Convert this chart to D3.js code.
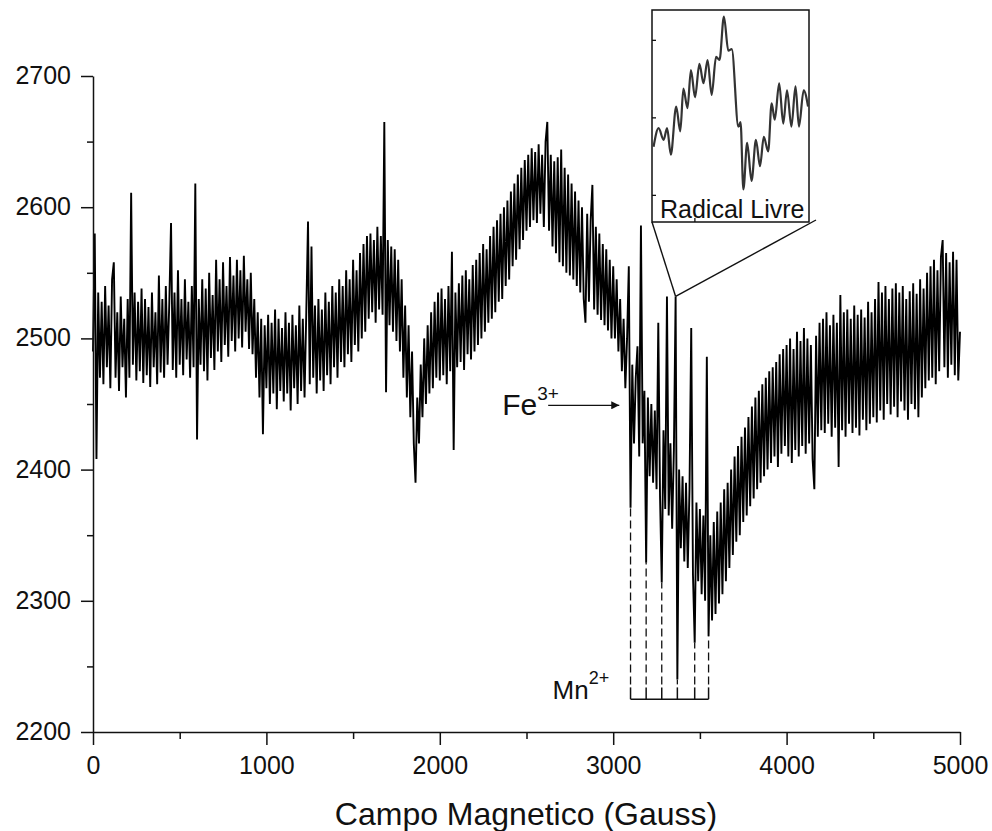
<!DOCTYPE html>
<html>
<head>
<meta charset="utf-8">
<script src="https://cdn.jsdelivr.net/npm/d3@7"></script>
<style>
  body { margin: 0; background: #fff; }
  text { font-family: "Liberation Sans", Arial, sans-serif; fill: #111; }
</style>
</head>
<body>
<div id="chart"></div>
<script>
var fieldStep = 10;

var signal0 = [2490,2580,2408,2535,2470,2528,2465,2540,2478,2525,
  2462,2545,2558,2470,2520,2460,2532,2478,2515,2455,
  2530,2470,2611,2480,2535,2468,2528,2475,2538,2466,
  2530,2472,2524,2463,2535,2478,2520,2465,2548,2474,
  2530,2470,2540,2480,2527,2588,2476,2535,2470,2552,
  2480,2530,2472,2545,2484,2528,2470,2540,2478,2618,
  2423,2530,2480,2545,2475,2538,2468,2550,2485,2533,
  2476,2560,2490,2545,2482,2558,2495,2540,2486,2562,
  2498,2548,2490,2560,2500,2552,2493,2563,2505,2545,
  2492,2550,2488,2530,2470,2520,2455,2515,2427,2510];

var signal1000 = [2462,2518,2450,2512,2458,2522,2446,2515,2460,2508,
  2452,2520,2458,2512,2445,2518,2462,2510,2450,2525,
  2460,2515,2455,2520,2589,2465,2570,2470,2525,2458,
  2530,2468,2522,2460,2535,2472,2528,2465,2540,2478,
  2535,2470,2545,2482,2540,2478,2552,2488,2545,2482,
  2560,2495,2552,2490,2565,2500,2572,2505,2578,2515,
  2580,2520,2575,2512,2585,2522,2578,2518,2665,2459,
  2575,2510,2570,2505,2568,2498,2560,2490,2545,2470,
  2525,2455,2510,2440,2490,2420,2390,2455,2420,2480,
  2440,2500,2450,2510,2458,2520,2462,2528,2470,2535];

var signal2000 = [2468,2538,2472,2530,2465,2540,2475,2566,2415,2535,
  2478,2542,2482,2548,2476,2552,2488,2545,2484,2556,
  2490,2560,2495,2565,2500,2572,2505,2568,2512,2578,
  2515,2585,2520,2590,2528,2595,2530,2600,2540,2605,
  2545,2612,2555,2618,2560,2625,2568,2630,2575,2636,
  2582,2640,2585,2645,2590,2642,2588,2648,2595,2640,
  2585,2650,2665,2582,2640,2570,2635,2565,2638,2558,
  2644,2555,2630,2550,2625,2548,2618,2545,2612,2540,
  2605,2535,2600,2530,2512,2595,2528,2590,2617,2522,
  2585,2518,2580,2514,2572,2510,2568,2506,2560,2500];

var signal3000 = [2555,2500,2545,2490,2530,2475,2515,2462,2500,2555,
  2371,2480,2420,2470,2494,2410,2586,2420,2460,2329,
  2455,2395,2450,2390,2445,2385,2512,2380,2314,2430,
  2370,2532,2365,2420,2355,2415,2532,2240,2400,2340,
  2395,2330,2390,2325,2385,2508,2320,2268,2375,2315,
  2370,2305,2365,2300,2486,2273,2350,2285,2360,2290,
  2368,2298,2375,2305,2385,2315,2390,2325,2400,2335,
  2410,2345,2418,2350,2425,2360,2432,2365,2440,2372,
  2448,2378,2455,2385,2460,2390,2465,2395,2470,2400,
  2475,2405,2478,2410,2482,2402,2488,2412,2492,2418];

var signal4000 = [2495,2410,2500,2405,2492,2415,2505,2410,2498,2418,
  2508,2412,2500,2420,2495,2408,2385,2502,2425,2512,
  2430,2515,2428,2520,2435,2510,2425,2518,2432,2512,
  2402,2533,2430,2520,2425,2522,2435,2515,2428,2525,
  2432,2518,2426,2522,2438,2516,2430,2528,2435,2520,
  2440,2530,2436,2543,2445,2535,2438,2540,2450,2530,
  2442,2538,2448,2542,2440,2535,2452,2540,2445,2530,
  2438,2536,2450,2542,2446,2534,2440,2545,2455,2538,
  2462,2550,2468,2555,2470,2560,2465,2552,2475,2562,
  2575,2478,2565,2470,2558,2480,2566,2472,2560,2468,
  2505];

// zoomed view of the free radical line
var insetField = [3337.0,3338.6,3340.2,3341.3,3342.5,3344.2,3345.5,3346.5,3347.8,3348.9,
  3350.2,3351.6,3352.9,3354.2,3355.5,3356.9,3358.0,3359.4,3360.8,3361.9,
  3364.0,3364.7,3365.6,3366.8,3368.2,3369.6,3370.9,3372.1,3373.5,3374.6,
  3375.6,3377.0,3378.3,3379.5,3380.9,3382.2,3383.3,3384.8,3386.2];
var insetSignal = [-0.38,-0.14,-0.29,-0.14,-0.48,0.14,-0.18,0.37,0.12,0.61,
  0.26,0.69,0.44,0.74,0.29,0.78,0.74,1.30,0.86,0.88,
  -0.12,-0.06,-0.93,-0.33,-0.82,-0.29,-0.63,-0.25,-0.44,0.18,
  -0.03,0.44,-0.08,0.35,-0.12,0.40,-0.12,0.35,0.14];

// Mn2+ hyperfine lines (field) and the depth each dashed marker reaches
var mnField = [3100, 3190, 3280, 3370, 3470, 3550];
var mnDepth = [2371, 2329, 2314, 2240, 2268, 2273];

var xTicks = [0, 1000, 2000, 3000, 4000, 5000];
var yTicks = [2200, 2300, 2400, 2500, 2600, 2700];

var signal = signal0.concat(signal1000, signal2000, signal3000, signal4000);
var data = signal.map(function (v, i) {
    return { field: i * fieldStep, value: v };
});

var W = 992, H = 831;
var margin = { top: 76, right: 32, bottom: 99, left: 93 };
var width = W - margin.left - margin.right;
var height = H - margin.top - margin.bottom;

var svg = d3.select("#chart").append("svg")
    .attr("width", W)
    .attr("height", H);

svg.append("rect").attr("width", W).attr("height", H).attr("fill", "#fff");

var g = svg.append("g")
    .attr("transform", "translate(" + margin.left + "," + margin.top + ")");

var x = d3.scaleLinear().domain([0, 5000]).range([0, width]);
var y = d3.scaleLinear().domain([2200, 2700]).range([height, 0]);

var line = d3.line()
    .x(function (d) { return x(d.field); })
    .y(function (d) { return y(d.value); });

// spectrum
g.append("path")
    .datum(data)
    .attr("fill", "none")
    .attr("stroke", "#000")
    .attr("stroke-width", 1.9)
    .attr("stroke-linejoin", "bevel")
    .attr("d", line);

// axes: minor ticks first, then the major ones with labels
g.append("g")
    .attr("transform", "translate(0," + height + ")")
    .call(d3.axisBottom(x).tickValues([500, 1500, 2500, 3500, 4500]).tickSize(7).tickFormat(""))
    .call(function (a) { a.select(".domain").remove(); });

var xAxis = g.append("g")
    .attr("transform", "translate(0," + height + ")")
    .call(d3.axisBottom(x).tickValues(xTicks).tickSize(13).tickSizeOuter(0).tickPadding(8).tickFormat(d3.format("d")));

g.append("g")
    .call(d3.axisLeft(y).tickValues([2250, 2350, 2450, 2550, 2650]).tickSize(6).tickFormat(""))
    .call(function (a) { a.select(".domain").remove(); });

var yAxis = g.append("g")
    .call(d3.axisLeft(y).tickValues(yTicks).tickSize(12).tickSizeOuter(0).tickPadding(10).tickFormat(d3.format("d")));

g.selectAll(".domain, .tick line").attr("stroke", "#111").attr("stroke-width", 1.5);
xAxis.selectAll("text").style("font-size", "25px").attr("dy", "0.85em");
yAxis.selectAll("text").style("font-size", "25px").attr("dy", "0.3em");

svg.append("text")
    .attr("x", 526)
    .attr("y", 825)
    .attr("text-anchor", "middle")
    .style("font-size", "32px")
    .text("Campo Magnetico (Gauss)");

// Fe3+ arrow
svg.append("defs").append("marker")
    .attr("id", "arrow")
    .attr("viewBox", "0 0 10 10")
    .attr("refX", 10).attr("refY", 5)
    .attr("markerWidth", 14).attr("markerHeight", 8)
    .attr("markerUnits", "userSpaceOnUse")
    .attr("orient", "auto")
    .append("path")
    .attr("d", "M0,0L10,5L0,10z")
    .attr("fill", "#111");

g.append("line")
    .attr("x1", x(2625)).attr("x2", x(3035))
    .attr("y1", y(2449)).attr("y2", y(2449))
    .attr("stroke", "#111")
    .attr("stroke-width", 1.3)
    .attr("marker-end", "url(#arrow)");

var fe = g.append("text")
    .attr("x", x(2625) - 46)
    .attr("y", y(2449) + 10)
    .style("font-size", "30px")
    .text("Fe");
fe.append("tspan").attr("dy", -15).style("font-size", "19px").text("3+");

// Mn2+ sextet marker
var bracketY = y(2225), tickTop = y(2234);
g.append("line")
    .attr("x1", x(mnField[0])).attr("x2", x(mnField[mnField.length - 1]))
    .attr("y1", bracketY).attr("y2", bracketY)
    .attr("stroke", "#111").attr("stroke-width", 1.5);

g.selectAll(".mnTick")
    .data(mnField)
    .enter().append("line")
    .attr("class", "mnTick")
    .attr("x1", function (d) { return x(d); })
    .attr("x2", function (d) { return x(d); })
    .attr("y1", bracketY).attr("y2", tickTop)
    .attr("stroke", "#111").attr("stroke-width", 1.5);

g.selectAll(".mnDash")
    .data(mnField)
    .enter().append("line")
    .attr("class", "mnDash")
    .attr("x1", function (d) { return x(d); })
    .attr("x2", function (d) { return x(d); })
    .attr("y1", tickTop - 3)
    .attr("y2", function (d, i) { return y(mnDepth[i]); })
    .attr("stroke", "#111").attr("stroke-width", 1.3)
    .attr("stroke-dasharray", "8,4");

var mn = g.append("text")
    .attr("x", x(mnField[0]) - 78)
    .attr("y", bracketY)
    .style("font-size", "26px")
    .text("Mn");
mn.append("tspan").attr("dy", -15).style("font-size", "18px").text("2+");

// inset with the radical line
var inset = { left: 652, top: 10, w: 157, h: 212 };

svg.append("line")
    .attr("x1", inset.left).attr("y1", inset.top + inset.h)
    .attr("x2", margin.left + x(3360)).attr("y2", margin.top + y(2532))
    .attr("stroke", "#111").attr("stroke-width", 1.4);
svg.append("line")
    .attr("x1", inset.left + inset.w + 7).attr("y1", inset.top + inset.h - 2)
    .attr("x2", margin.left + x(3360)).attr("y2", margin.top + y(2532))
    .attr("stroke", "#111").attr("stroke-width", 1.4);

var ig = svg.append("g")
    .attr("transform", "translate(" + inset.left + "," + inset.top + ")");

var ix = d3.scaleLinear().domain([3336.5, 3386.5]).range([0, inset.w]);
var iy = d3.scaleLinear().domain([-1.35, 1.385]).range([inset.h, 0]);

ig.append("rect")
    .attr("width", inset.w).attr("height", inset.h)
    .attr("fill", "#fff")
    .attr("stroke", "#111").attr("stroke-width", 1.5);

ig.append("g")
    .call(d3.axisRight(iy).tickValues([-1, 0, 1]).tickSize(4).tickFormat(""))
    .call(function (a) { a.select(".domain").remove(); });
ig.append("g")
    .attr("transform", "translate(0," + inset.h + ")")
    .call(d3.axisTop(ix).tickValues([3350]).tickSize(4).tickFormat(""))
    .call(function (a) { a.select(".domain").remove(); });
ig.selectAll(".tick line").attr("stroke", "#111").attr("stroke-width", 1.3);

ig.append("path")
    .datum(d3.zip(insetField, insetSignal))
    .attr("fill", "none")
    .attr("stroke", "#333")
    .attr("stroke-width", 2.2)
    .attr("d", d3.line()
        .x(function (d) { return ix(d[0]); })
        .y(function (d) { return iy(d[1]); })
        .curve(d3.curveMonotoneX));

ig.append("text")
    .attr("x", 8)
    .attr("y", inset.h - 4)
    .style("font-size", "25px")
    .text("Radical Livre");
</script>
</body>
</html>
